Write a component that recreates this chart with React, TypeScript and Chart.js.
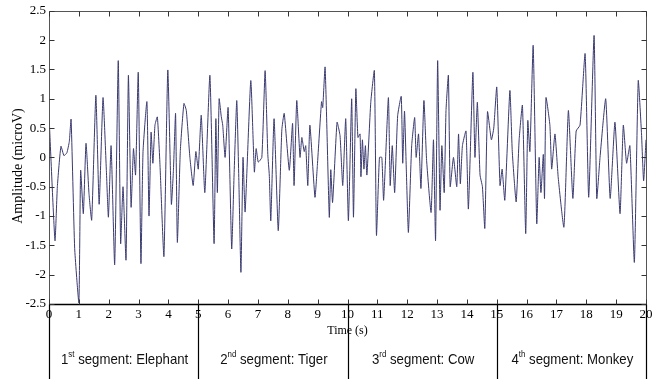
import { useEffect, useRef } from "react";
import { Chart, registerables } from "chart.js";

Chart.register(...registerables);

// ---- Data ----
const seg1Times = [0, 0.2, 0.28, 0.4, 0.5, 0.6, 0.68, 0.74, 0.86, 1.0, 1.06, 1.15, 1.24, 1.34, 1.43, 1.57, 1.68, 1.81, 1.92, 1.99, 2.08, 2.2, 2.32, 2.4, 2.48, 2.58, 2.66, 2.75, 2.83, 2.9, 2.99, 3.08, 3.15, 3.28, 3.35, 3.42, 3.48, 3.55, 3.63, 3.72, 3.85, 3.98, 4.1, 4.17, 4.24, 4.3, 4.4, 4.52, 4.6, 4.72, 4.83, 4.92, 5.0];
const seg1Values = [0.72, -1.42, -0.5, 0.19, 0.03, 0.08, 0.27, 0.65, -1.55, -2.48, -0.22, -0.96, 0.24, -0.62, -1.07, 1.06, -0.8, 1.02, -0.2, -1.02, 0.2, -1.83, 1.65, -1.47, -0.5, -1.75, 1.4, -0.85, 0.15, -0.3, 1.45, -1.81, 0.1, 0.95, -1.0, 0.43, -0.1, 0.55, 0.69, -0.15, -1.69, 1.49, -0.8, -0.2, 0.75, -1.45, 0.12, 0.92, 0.8, 0.0, -0.48, 0.1, -0.2];

const seg2Times = [5.1, 5.22, 5.39, 5.53, 5.59, 5.64, 5.7, 5.77, 5.82, 5.9, 6.0, 6.12, 6.2, 6.29, 6.36, 6.43, 6.5, 6.57, 6.76, 6.88, 6.94, 7.01, 7.13, 7.24, 7.33, 7.38, 7.43, 7.54, 7.68, 7.8, 7.88, 8.05, 8.16, 8.21, 8.3, 8.41, 8.47, 8.55, 8.6, 8.67, 8.74, 8.91, 8.99, 9.13, 9.17, 9.25, 9.39, 9.44, 9.5, 9.65, 9.75, 9.84, 9.94];
const seg2Values = [0.72, -0.6, 1.4, -1.47, 0.66, -0.6, 1.0, 0.7, 0.55, 0.0, 0.85, -1.56, -0.3, 0.97, -0.39, -1.96, 0.0, -0.93, 1.31, -0.25, 0.15, -0.08, 0.0, 1.48, 0.05, -0.3, -1.08, 0.66, -1.25, 0.47, 0.75, -0.22, 0.58, -0.48, 0.97, 0.0, 0.34, 0.1, 0.2, -0.48, 0.55, -0.68, -0.14, 0.95, 0.85, 1.54, -1.02, -0.21, -0.77, 0.6, 0.37, -0.48, 0.66];

const seg3Times = [10.03, 10.14, 10.2, 10.28, 10.35, 10.42, 10.45, 10.5, 10.55, 10.6, 10.65, 10.78, 10.9, 10.97, 11.07, 11.15, 11.21, 11.37, 11.43, 11.5, 11.58, 11.68, 11.8, 11.85, 11.91, 11.97, 12.04, 12.15, 12.25, 12.3, 12.38, 12.46, 12.56, 12.65, 12.8, 12.88, 12.95, 13.02, 13.1, 13.16, 13.24, 13.3, 13.38, 13.44, 13.55, 13.66, 13.72, 13.78, 13.85, 13.97, 14.05, 14.2, 14.27, 14.35, 14.44, 14.52, 14.6, 14.69, 14.82, 14.9];
const seg3Values = [-1.08, 1.0, -1.02, 1.17, 0.34, 0.4, -0.33, 0.3, -0.2, 0.2, -0.3, 0.94, 1.48, -1.33, 0.0, 0.0, -0.73, 1.02, -0.48, 0.2, -0.6, 0.71, 1.04, -0.1, 0.79, -0.2, -1.28, 0.2, 0.68, 0.0, 0.4, -0.53, 0.97, -0.05, -0.94, 0.3, -1.42, 1.65, -0.9, 0.2, -0.6, 0.8, 1.4, -0.5, 0.0, -0.5, 0.4, -0.45, 0.2, 0.45, -0.88, 1.45, 0.0, 0.94, -0.3, -0.5, -1.21, 0.78, 0.3, 0.5];

const seg4Times = [15.0, 15.11, 15.18, 15.27, 15.44, 15.52, 15.65, 15.75, 15.86, 15.97, 16.04, 16.11, 16.22, 16.34, 16.42, 16.48, 16.56, 16.6, 16.65, 16.78, 16.84, 16.95, 17.06, 17.25, 17.4, 17.55, 17.66, 17.79, 17.96, 18.08, 18.26, 18.35, 18.46, 18.65, 18.8, 18.96, 19.13, 19.24, 19.35, 19.46, 19.61, 19.74, 19.85, 19.92, 20.0];
const seg4Values = [1.2, -0.48, -0.2, -0.73, 1.14, 0.1, -0.76, 0.3, 0.89, -1.3, 0.63, 0.1, 1.91, -1.13, 0.0, -0.6, 0.05, -0.7, 1.02, 0.55, -0.2, 0.4, -0.35, -1.19, 0.8, -0.7, 0.45, 0.55, 1.77, -0.68, 2.08, -0.7, 0.0, 1.0, -0.7, 0.6, -0.96, 0.55, -0.1, 0.2, -1.79, 1.31, 0.4, -0.4, 0.3];

const xTickValues = [0, 1, 2, 3, 4, 5, 6, 7, 8, 9, 10, 11, 12, 13, 14, 15, 16, 17, 18, 19, 20];
const yTickValues = [-2.5, -2, -1.5, -1, -0.5, 0, 0.5, 1, 1.5, 2, 2.5];
const segmentBounds = [0, 5, 10, 15, 20];
const segmentNumbers = ["1", "2", "3", "4"];
const segmentSuffixes = ["st", "nd", "rd", "th"];
const segmentNames = [" segment: Elephant", " segment: Tiger", " segment: Cow", " segment: Monkey"];
const xTitle = "Time (s)";
const yTitle = "Amplitude (microV)";

const allTimes = [...seg1Times, ...seg2Times, ...seg3Times, ...seg4Times];
const allValues = [...seg1Values, ...seg2Values, ...seg3Values, ...seg4Values];

const decorPlugin = {
  id: "matlabDecor",
  afterDraw(chart: any) {
    const ctx: CanvasRenderingContext2D = chart.ctx;
    const xs = chart.scales.x;
    const ys = chart.scales.y;
    const a = chart.chartArea;
    const H = chart.height;
    const L = Math.round(a.left) + 0.5;
    const R = Math.round(a.right) + 0.5;
    const T = Math.round(a.top) + 0.5;
    const B = Math.round(a.bottom) + 0.5;
    ctx.save();
    ctx.lineWidth = 1;
    // frame
    ctx.strokeStyle = "#555";
    ctx.beginPath();
    ctx.moveTo(L, T);
    ctx.lineTo(R, T);
    ctx.lineTo(R, B);
    ctx.moveTo(L, T);
    ctx.lineTo(L, B);
    ctx.stroke();
    ctx.strokeStyle = "#000";
    ctx.lineWidth = 1.5;
    ctx.beginPath();
    ctx.moveTo(L, B);
    ctx.lineTo(R, B);
    ctx.stroke();
    ctx.lineWidth = 1;
    // inward ticks
    const tl = 5;
    ctx.strokeStyle = "#333";
    ctx.beginPath();
    xTickValues.forEach((v) => {
      const px = Math.round(xs.getPixelForValue(v)) + 0.5;
      ctx.moveTo(px, B);
      ctx.lineTo(px, B - tl);
      ctx.moveTo(px, T);
      ctx.lineTo(px, T + tl);
    });
    yTickValues.forEach((v) => {
      const py = Math.round(ys.getPixelForValue(v)) + 0.5;
      ctx.moveTo(L, py);
      ctx.lineTo(L + tl, py);
      ctx.moveTo(R, py);
      ctx.lineTo(R - tl, py);
    });
    ctx.stroke();

    // x title
    ctx.fillStyle = "#000";
    ctx.font = '12px "Liberation Serif"';
    ctx.textAlign = "center";
    ctx.textBaseline = "middle";
    ctx.fillText(xTitle, (a.left + a.right) / 2, 331);

    // y title
    ctx.save();
    ctx.translate(18, 166);
    ctx.rotate(-Math.PI / 2);
    ctx.font = '14px "Liberation Serif"';
    ctx.textAlign = "center";
    ctx.textBaseline = "middle";
    ctx.fillText(yTitle, 0, 0);
    ctx.restore();

    // table vertical lines
    ctx.strokeStyle = "#000";
    ctx.lineWidth = 1.2;
    ctx.beginPath();
    segmentBounds.forEach((v) => {
      const px = Math.round(xs.getPixelForValue(v)) + 0.5;
      ctx.moveTo(px, B);
      ctx.lineTo(px, H);
    });
    ctx.stroke();

    // segment labels
    ctx.textAlign = "left";
    ctx.textBaseline = "alphabetic";
    const big = '15px "Liberation Sans"';
    const small = '9px "Liberation Sans"';
    const sx = 0.88;
    for (let i = 0; i < segmentNames.length; i++) {
      const x0 = xs.getPixelForValue(segmentBounds[i]);
      const x1 = xs.getPixelForValue(segmentBounds[i + 1]);
      ctx.font = big;
      const w1 = ctx.measureText(segmentNumbers[i]).width;
      const w3 = ctx.measureText(segmentNames[i]).width;
      ctx.font = small;
      const w2 = ctx.measureText(segmentSuffixes[i]).width;
      const total = w1 + w2 + w3;
      ctx.save();
      ctx.translate((x0 + x1) / 2 + 1, 364);
      ctx.scale(sx, 1);
      let cx = -total / 2;
      ctx.font = big;
      ctx.fillStyle = "#111";
      ctx.fillText(segmentNumbers[i], cx, 0);
      cx += w1;
      ctx.font = small;
      ctx.fillText(segmentSuffixes[i], cx, -7);
      cx += w2;
      ctx.font = big;
      ctx.fillText(segmentNames[i], cx, 0);
      ctx.restore();
    }
    ctx.restore();
  },
};

export default function App() {
  const canvasRef = useRef<HTMLCanvasElement | null>(null);

  useEffect(() => {
    document.body.style.margin = "0";
    const canvas = canvasRef.current;
    if (!canvas) return;
    const chart = new Chart(canvas, {
      type: "line",
      data: {
        datasets: [
          {
            data: allTimes.map((t, i) => ({ x: t, y: allValues[i] })),
            borderColor: "#3a3a70",
            borderWidth: 1,
            pointRadius: 0,
            tension: 0.15,
            fill: false,
          },
        ],
      },
      options: {
        animation: false,
        responsive: false,
        events: [],
        layout: { padding: { top: 10, right: 15, left: 0, bottom: 0 } },
        plugins: { legend: { display: false }, tooltip: { enabled: false }, title: { display: false } },
        scales: {
          x: {
            type: "linear",
            min: 0,
            max: 20,
            afterFit: (s: any) => {
              s.height = 75;
            },
            afterBuildTicks: (s: any) => {
              s.ticks = xTickValues.map((v) => ({ value: v }));
            },
            ticks: {
              color: "#000",
              font: { family: "Liberation Serif", size: 13 },
              padding: 3,
              maxRotation: 0,
              autoSkip: false,
              callback: (v: any) => String(v),
            },
            grid: { display: false, drawTicks: false },
            border: { display: false },
          },
          y: {
            type: "linear",
            min: -2.5,
            max: 2.5,
            afterFit: (s: any) => {
              s.width = 49;
            },
            afterBuildTicks: (s: any) => {
              s.ticks = yTickValues.map((v) => ({ value: v }));
            },
            ticks: {
              color: "#000",
              font: { family: "Liberation Serif", size: 13 },
              padding: 3,
              autoSkip: false,
              callback: (v: any) => String(v),
            },
            grid: { display: false, drawTicks: false },
            border: { display: false },
          },
        },
      },
      plugins: [decorPlugin],
    });
    return () => chart.destroy();
  }, []);

  return (
    <div style={{ width: 661, height: 379, background: "#fff" }}>
      <canvas ref={canvasRef} width={661} height={379} style={{ display: "block" }} />
    </div>
  );
}
